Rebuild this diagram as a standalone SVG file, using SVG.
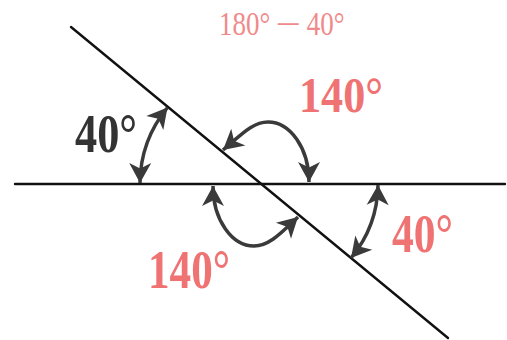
<svg xmlns="http://www.w3.org/2000/svg" width="507" height="340" viewBox="0 0 507 340">
  <style>
    .line { stroke: #111; stroke-width: 2.4; fill: none; stroke-linecap: round; }
    .arc { stroke: #3a3a3a; stroke-width: 3.5; fill: none; marker-start: url(#ah); marker-end: url(#ah); }
    .lbl { font-family: "Liberation Serif", "Times New Roman", serif; font-weight: bold; }
    .dark { fill: #333; }
    .pink { fill: #ef7373; }
    .small { font-family: "Liberation Serif", "Times New Roman", serif; fill: #f08a8a; }
  </style>
  <defs>
    <marker id="ah" markerUnits="userSpaceOnUse" markerWidth="26" markerHeight="26" viewBox="-22 -13 24 26" refX="0" refY="0" orient="auto-start-reverse">
      <path d="M0 0 L-20 -11 L-14.5 0 L-20 11 Z" fill="#3a3a3a"/>
    </marker>
  </defs>
  <g id="lines">
    <line class="line" x1="15" y1="184" x2="505" y2="184"/>
    <line class="line" x1="71" y1="27" x2="448" y2="338"/>
  </g>
  <g id="connectors">
    <path class="arc" d="M140 183 A121 121 0 0 1 167.5 107.5"/>
    <path class="arc" d="M309 182 C309 148 290 122 268 122 C253 122 242 134 223 150"/>
    <path class="arc" d="M213 186 C213 220 232 246 254 246 C269 246 280 234 298 217"/>
    <path class="arc" d="M378 185 A117 117 0 0 1 351 258"/>
  </g>
  <g id="label-formula">
    <text class="small" font-size="33" transform="translate(219,35) scale(0.82,1)"><tspan x="0">180°</tspan><tspan x="69" textLength="31" lengthAdjust="spacingAndGlyphs">−</tspan><tspan x="107">40°</tspan></text>
  </g>
  <g id="label-40-left">
    <text class="lbl dark" x="75" y="152" font-size="55" textLength="62" lengthAdjust="spacingAndGlyphs">40°</text>
  </g>
  <g id="label-140-top">
    <text class="lbl pink" x="299" y="112" font-size="51" textLength="84" lengthAdjust="spacingAndGlyphs">140°</text>
  </g>
  <g id="label-140-bottom">
    <text class="lbl pink" x="148" y="288" font-size="54" textLength="82" lengthAdjust="spacingAndGlyphs">140°</text>
  </g>
  <g id="label-40-right">
    <text class="lbl pink" x="392" y="252" font-size="55" textLength="61" lengthAdjust="spacingAndGlyphs">40°</text>
  </g>
</svg>
